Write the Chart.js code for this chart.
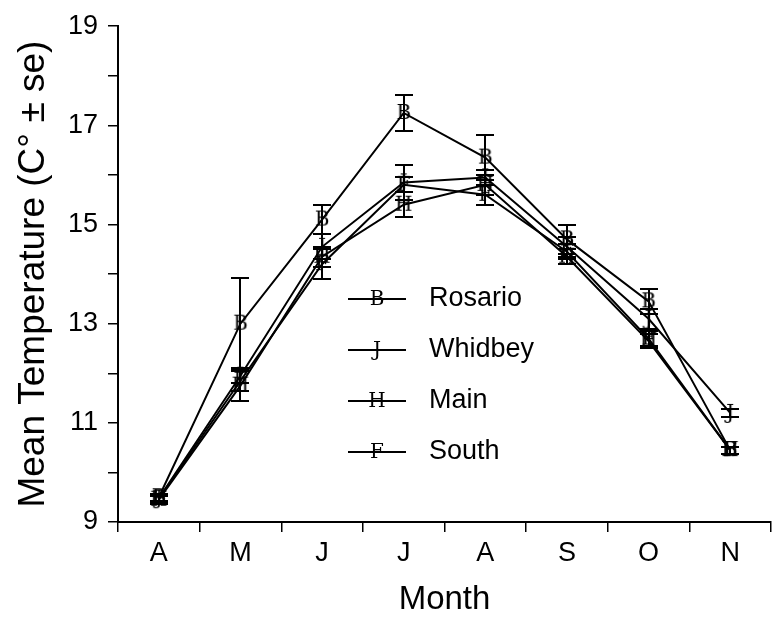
<!DOCTYPE html>
<html><head><meta charset="utf-8">
<script src="https://cdn.jsdelivr.net/npm/chart.js@4/dist/chart.umd.min.js"></script>
<style>html,body{margin:0;padding:0;background:#fff}</style>
</head><body>
<canvas id="c" width="783" height="620"></canvas>
<script>
const months = ['A', 'M', 'J', 'J', 'A', 'S', 'O', 'N'];
const seriesNames = ['Rosario', 'Whidbey', 'Main', 'South'];
const seriesLetters = ['B', 'J', 'H', 'F'];
const rosario   = [9.50, 13.00, 15.10, 17.25, 16.35, 14.70, 13.45, 10.45];
const rosarioSe = [0.07, 0.93, 0.30, 0.37, 0.45, 0.30, 0.25, 0.07];
const whidbey   = [9.48, 11.95, 14.55, 15.85, 15.95, 14.55, 13.10, 11.20];
const whidbeySe = [0.08, 0.15, 0.25, 0.35, 0.15, 0.20, 0.20, 0.08];
const mainSt    = [9.45, 11.75, 14.35, 15.40, 15.80, 14.35, 12.65, 10.45];
const mainSe    = [0.08, 0.30, 0.20, 0.25, 0.20, 0.15, 0.15, 0.07];
const south     = [9.47, 11.85, 14.20, 15.80, 15.60, 14.45, 12.70, 10.45];
const southSe   = [0.07, 0.20, 0.30, 0.15, 0.20, 0.15, 0.15, 0.07];
const yTickLabels = ['9', '11', '13', '15', '17', '19'];

const values = [rosario, whidbey, mainSt, south];
const errors = [rosarioSe, whidbeySe, mainSe, southSe];

const SANS = 'Arial, "Liberation Sans", Helvetica, sans-serif';
const MARK_FONT = '20px "DejaVu Serif", "Liberation Serif", serif';

function letterCanvas(ch) {
  const c = document.createElement('canvas');
  c.width = 26; c.height = 26;
  const g = c.getContext('2d');
  g.fillStyle = '#000';
  g.font = MARK_FONT;
  g.textAlign = 'center';
  g.textBaseline = 'middle';
  g.fillText(ch, 13, 14);
  return c;
}

const errorBars = {
  id: 'errorBars',
  afterDatasetsDraw(chart) {
    const ctx = chart.ctx, y = chart.scales.y;
    ctx.save();
    ctx.strokeStyle = '#000';
    ctx.lineWidth = 2;
    chart.data.datasets.forEach((ds, di) => {
      const meta = chart.getDatasetMeta(di);
      meta.data.forEach((pt, i) => {
        const v = values[di][i], e = errors[di][i];
        const yt = Math.round(y.getPixelForValue(v + e)), yb = Math.round(y.getPixelForValue(v - e));
        const x = Math.round(pt.x);
        ctx.beginPath();
        ctx.moveTo(x, yt); ctx.lineTo(x, yb);
        ctx.moveTo(x - 9, yt); ctx.lineTo(x + 9, yt);
        ctx.moveTo(x - 9, yb); ctx.lineTo(x + 9, yb);
        ctx.stroke();
      });
    });
    ctx.restore();
  }
};

const legendPlugin = {
  id: 'customLegend',
  afterDraw(chart) {
    const ctx = chart.ctx;
    ctx.save();
    const x0 = 348, x1 = 406, xt = 429;
    const rows = [299, 350, 401, 452];
    seriesNames.forEach((name, i) => {
      const yy = rows[i];
      ctx.strokeStyle = '#000'; ctx.lineWidth = 2;
      ctx.beginPath(); ctx.moveTo(x0, yy); ctx.lineTo(x1, yy); ctx.stroke();
      ctx.fillStyle = '#000';
      ctx.font = MARK_FONT;
      ctx.textAlign = 'center'; ctx.textBaseline = 'middle';
      ctx.fillText(seriesLetters[i], (x0 + x1) / 2, yy + 1);
      ctx.font = '27px ' + SANS;
      ctx.textAlign = 'left';
      ctx.fillText(name, xt, yy);
    });
    ctx.restore();
  }
};

new Chart(document.getElementById('c'), {
  type: 'line',
  data: {
    labels: months,
    datasets: seriesNames.map((n, i) => ({
      label: n,
      data: values[i],
      borderColor: '#000',
      borderWidth: 2,
      pointStyle: letterCanvas(seriesLetters[i]),
      pointRadius: 10,
      tension: 0,
      fill: false
    }))
  },
  options: {
    responsive: false,
    animation: false,
    layout: { padding: { top: 21, right: 0, left: 0, bottom: 0 } },
    plugins: { legend: { display: false }, tooltip: { enabled: false } },
    scales: {
      x: {
        offset: true,
        grid: { offset: true, drawOnChartArea: false, color: '#000', lineWidth: 1.5, tickLength: 10, tickColor: '#000' },
        border: { color: '#000', width: 2 },
        ticks: { color: '#000', font: { family: SANS, size: 27 }, padding: 5, maxRotation: 0 },
        title: { display: true, text: 'Month', color: '#000', font: { family: SANS, size: 33 }, padding: { top: 2, bottom: 0 } },
        afterFit(s) { s.height = 98; }
      },
      y: {
        min: 9, max: 19,
        grid: { drawOnChartArea: false, color: '#000', lineWidth: 1.5, tickLength: 10, tickColor: '#000' },
        border: { color: '#000', width: 2 },
        ticks: {
          stepSize: 1, color: '#000', font: { family: SANS, size: 27 }, padding: 10,
          callback: (v) => yTickLabels.includes(String(v)) ? String(v) : ''
        },
        title: { display: true, text: 'Mean Temperature (C° ± se)', color: '#000', font: { family: SANS, size: 37 }, padding: { top: 12, bottom: 0 } },
        afterFit(s) { s.width = 118; }
      }
    }
  },
  plugins: [errorBars, legendPlugin]
});
</script>
</body></html>
